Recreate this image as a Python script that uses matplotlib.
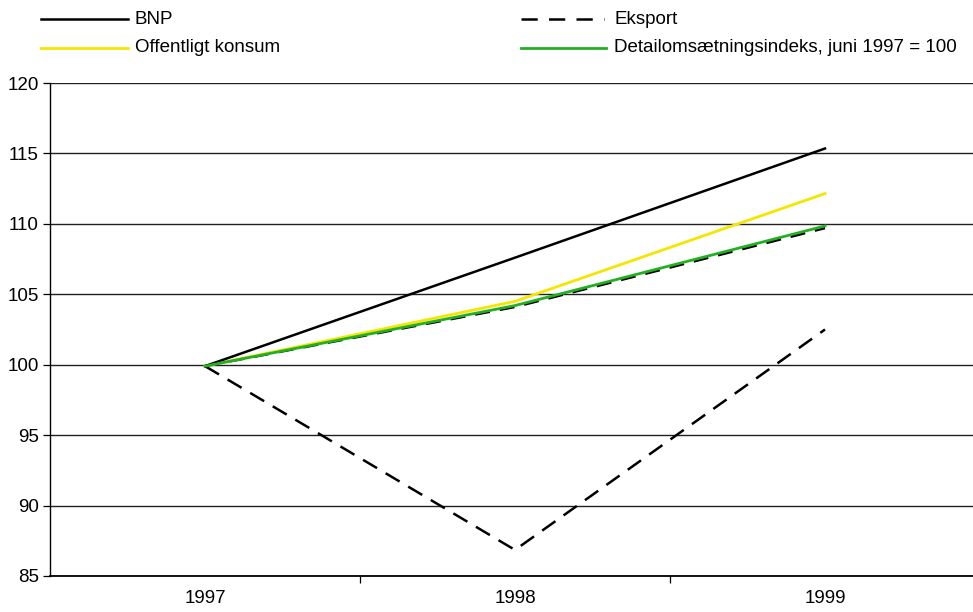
import matplotlib
matplotlib.use("Agg")
import matplotlib.pyplot as plt
from matplotlib.lines import Line2D

plt.rcParams['font.family'] = ['Liberation Sans', 'DejaVu Sans']

years = ['1997', '1998', '1999']
bnp = [99.9, 107.6, 115.35]
eksport = [99.9, 86.85, 102.5]
offentligt = [99.9, 104.5, 112.15]
detail = [99.9, 104.2, 109.85]
detail_shadow = [99.9, 104.1, 109.7]
yticks = [85, 90, 95, 100, 105, 110, 115, 120]

W, H = 973, 612
fig = plt.figure(figsize=(W / 100, H / 100), dpi=100)
# plot area in pixels: left 50, right ~980 (cut off), top 83, bottom 576
ax = fig.add_axes([50 / W, 1 - 576 / H, 930 / W, (576 - 83) / H])

x = range(len(years))
ax.plot(x, detail_shadow, color='black', lw=1.8, ls=(0, (6, 4)), zorder=3)
ax.plot(x, detail, color='#22b022', lw=2.0, zorder=4)
ax.plot(x, offentligt, color='#f5e600', lw=2.0, zorder=3)
ax.plot(x, bnp, color='black', lw=1.8, zorder=3)
ax.plot(x, eksport, color='black', lw=1.8, ls=(0, (6.5, 4)), zorder=3)

ax.set_xlim(-0.5, 2.5)
ax.set_ylim(85, 120)
ax.set_yticks(yticks)
ax.yaxis.grid(True, color='#202020', lw=1.0)
ax.set_axisbelow(True)

ax.set_xticks(list(x))
ax.set_xticklabels(years)
ax.set_xticks([0.5, 1.5], minor=True)
ax.tick_params(axis='x', which='major', length=0, pad=10, labelsize=13.5)
ax.tick_params(axis='x', which='minor', length=5, width=0.9, direction='out')
ax.tick_params(axis='y', length=5, width=0.9, direction='out', pad=3, labelsize=13.5)

for s in ['top', 'right']:
    ax.spines[s].set_visible(False)
ax.spines['left'].set_linewidth(1.0)
ax.spines['bottom'].set_linewidth(1.3)

# legend, two columns above the plot
def legend_entry(x0, x1, xt, y, label, **kw):
    fig.add_artist(Line2D([x0 / W, x1 / W], [1 - y / H, 1 - y / H],
                          transform=fig.transFigure, **kw))
    fig.text(xt / W, 1 - y / H, label, fontsize=13.5, va='center', ha='left')

legend_entry(41, 128, 135, 19, 'BNP', color='black', lw=1.8)
legend_entry(41, 128, 135, 48, 'Offentligt konsum', color='#f5e600', lw=2.0)
legend_entry(521, 604, 614, 19, 'Eksport', color='black', lw=1.8, ls=(0, (6.5, 4.5)))
legend_entry(521, 606, 614, 48, 'Detailomsætningsindeks, juni 1997 = 100',
             color='#22b022', lw=2.0)

fig.savefig('out.png', dpi=100)
